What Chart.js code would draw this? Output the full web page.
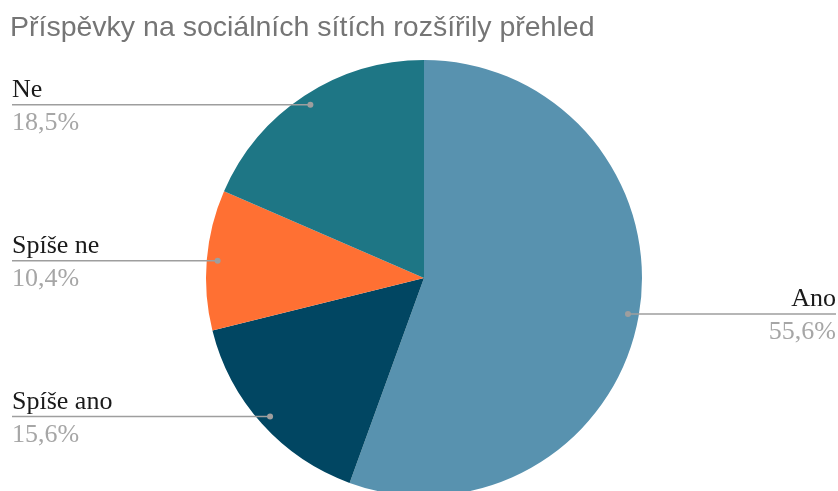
<!DOCTYPE html>
<html lang="cs">
<head>
    <meta charset="UTF-8">
    <title>Příspěvky na sociálních sítích</title>
    <style>
        body {
            margin: 0;
            padding: 0;
            background: #fff;
        }

        .chart-container {
            width: 838px;
            height: 491px;
        }
    </style>
</head>
<body>
    <div class="chart-container">
        <canvas id="pieChart"></canvas>
    </div>

    <script src="https://cdn.jsdelivr.net/npm/chart.js"></script>
    <script>
        // Survey answers (percent of respondents)
        const answers = ['Ano', 'Spíše ano', 'Spíše ne', 'Ne'];
        const shares = [55.6, 15.6, 10.4, 18.5];
        const sliceColors = ['#5892af', '#014662', '#ff7033', '#1e7685'];

        const chartTitle = 'Příspěvky na sociálních sítích rozšířily přehled';

        // Leader lines with name above and percentage below
        const sideLabels = {
            id: 'sideLabels',
            afterDatasetsDraw(chart) {
                const ctx = chart.ctx;
                const meta = chart.getDatasetMeta(0);
                const leftX = 12;
                const rightX = chart.width - 2;

                ctx.save();
                meta.data.forEach((arc, i) => {
                    const mid = (arc.startAngle + arc.endAngle) / 2;
                    const r = arc.outerRadius * 0.95;
                    const dotX = arc.x + Math.cos(mid) * r;
                    const dotY = arc.y + Math.sin(mid) * r;
                    const onLeft = Math.cos(mid) < 0;

                    ctx.strokeStyle = '#9e9e9e';
                    ctx.lineWidth = 1.5;
                    ctx.beginPath();
                    ctx.moveTo(onLeft ? leftX : dotX, dotY);
                    ctx.lineTo(onLeft ? dotX : rightX, dotY);
                    ctx.stroke();

                    ctx.fillStyle = '#9e9e9e';
                    ctx.beginPath();
                    ctx.arc(dotX, dotY, 3, 0, Math.PI * 2);
                    ctx.fill();

                    ctx.font = '26px "Liberation Serif", "Times New Roman", serif';
                    ctx.textAlign = onLeft ? 'left' : 'right';
                    ctx.textBaseline = 'alphabetic';
                    const textX = onLeft ? leftX : rightX;

                    ctx.fillStyle = '#1a1a1a';
                    ctx.fillText(answers[i], textX, dotY - 8);

                    ctx.fillStyle = '#a6a6a6';
                    const pct = shares[i].toFixed(1).replace('.', ',') + '%';
                    ctx.fillText(pct, textX, dotY + 25);
                });
                ctx.restore();
            }
        };

        const ctx = document.getElementById('pieChart').getContext('2d');
        const chart = new Chart(ctx, {
            type: 'pie',
            data: {
                labels: answers,
                datasets: [{
                    data: shares,
                    backgroundColor: sliceColors,
                    borderWidth: 0,
                    radius: 218
                }]
            },
            options: {
                responsive: true,
                maintainAspectRatio: false,
                animation: false,
                layout: {
                    padding: { top: 0, bottom: 0, left: 10, right: 0 }
                },
                plugins: {
                    legend: { display: false },
                    tooltip: { enabled: false },
                    title: {
                        display: true,
                        text: chartTitle,
                        align: 'start',
                        color: '#757575',
                        font: {
                            family: '"Liberation Sans", Arial, sans-serif',
                            size: 28.5,
                            weight: 'normal',
                            lineHeight: 1.2
                        },
                        padding: { top: 11, bottom: 19.8 }
                    }
                }
            },
            plugins: [sideLabels]
        });
    </script>
</body>
</html>
